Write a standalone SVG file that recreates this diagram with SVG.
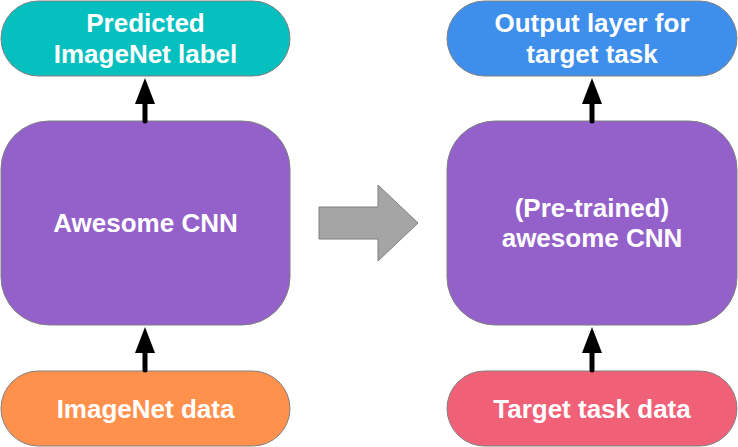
<svg xmlns="http://www.w3.org/2000/svg" width="738" height="447" viewBox="0 0 738 447">
<style>
.node{stroke:#7f7f7f;stroke-width:1}
.t{font-family:"Liberation Sans",Arial,sans-serif;font-weight:bold;font-size:26px;fill:#ffffff;text-anchor:middle}
.conn{stroke:#000;stroke-width:5;stroke-linecap:round;fill:none}
.head{fill:#000}
</style>
<rect width="738" height="447" fill="#ffffff"/>
<g id="predicted">
<rect class="node" x="1" y="1" width="289" height="75" rx="37.5" ry="37.5" fill="#06bfbf"/>
<text class="t" x="145.5" y="32">Predicted</text>
<text class="t" x="145.5" y="63">ImageNet label</text>
</g>
<g id="cnn">
<rect class="node" x="1" y="121" width="289" height="204" rx="48" ry="48" fill="#9461cb"/>
<text class="t" x="145.5" y="232">Awesome CNN</text>
</g>
<g id="imagenet-data">
<rect class="node" x="1" y="371" width="289" height="75" rx="37.5" ry="37.5" fill="#ff914d"/>
<text class="t" x="145.5" y="418">ImageNet data</text>
</g>
<g id="output-layer">
<rect class="node" x="447" y="1" width="290" height="75" rx="37.5" ry="37.5" fill="#3d8feb"/>
<text class="t" x="592" y="32">Output layer for</text>
<text class="t" x="592" y="63">target task</text>
</g>
<g id="pretrained-cnn">
<rect class="node" x="447" y="121" width="290" height="204" rx="48" ry="48" fill="#9461cb"/>
<text class="t" x="592" y="217">(Pre-trained)</text>
<text class="t" x="592" y="247">awesome CNN</text>
</g>
<g id="target-data">
<rect class="node" x="447" y="371" width="290" height="75" rx="37.5" ry="37.5" fill="#f06077"/>
<text class="t" x="592" y="418">Target task data</text>
</g>
<g id="transfer-arrow">
<polygon points="319,207 378,207 378,185 418,223 378,261 378,239 319,239" fill="#a5a5a5" stroke="#7f7f7f" stroke-width="1"/>
</g>
<g id="connectors">
<line class="conn" x1="145" y1="121" x2="145" y2="100"/>
<polygon class="head" points="145,78 135,104 155,104"/>
<line class="conn" x1="145" y1="370" x2="145" y2="349"/>
<polygon class="head" points="145,327 135,353 155,353"/>
<line class="conn" x1="592" y1="121" x2="592" y2="100"/>
<polygon class="head" points="592,78 582,104 602,104"/>
<line class="conn" x1="592" y1="370" x2="592" y2="349"/>
<polygon class="head" points="592,327 582,353 602,353"/>
</g>
</svg>
